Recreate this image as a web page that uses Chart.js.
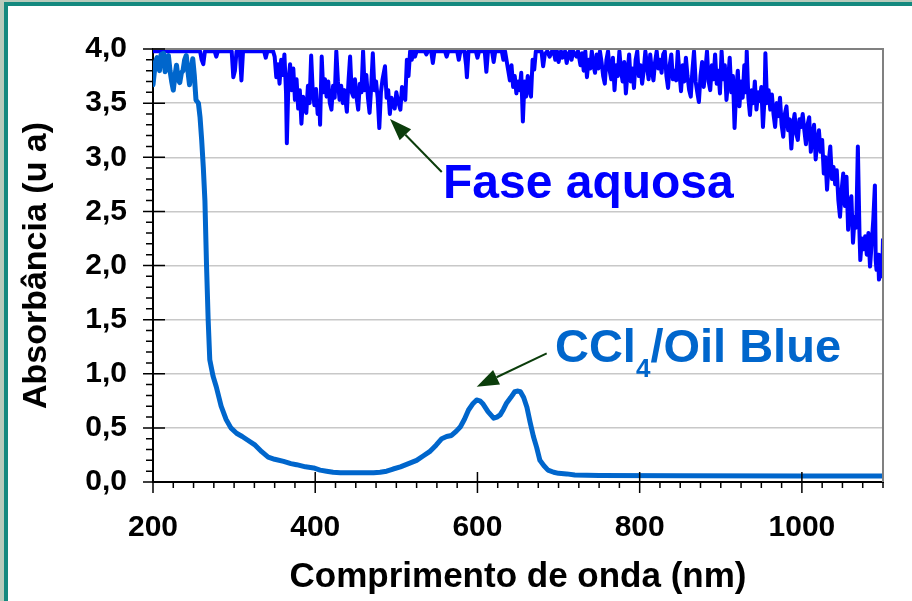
<!DOCTYPE html>
<html>
<head>
<meta charset="utf-8">
<title>Absorbância</title>
<script src="https://cdn.jsdelivr.net/npm/chart.js@4.4.1/dist/chart.umd.min.js"></script>
<style>
html, body { margin: 0; padding: 0; width: 912px; height: 601px; overflow: hidden; background: #b8cbbc; }
#frame { position: absolute; left: 4px; top: 2px; right: 0; bottom: 0; background: #fff; border-left: 4px solid #14897f; border-top: 4px solid #14897f; }
#spectrumChart { position: absolute; left: 0; top: 0; }
</style>
</head>
<body>
<div id="frame"></div>
<canvas id="spectrumChart" width="912" height="601"></canvas>
<script>
// ==========================
// DATA
// ==========================

// CCl4 / Oil Blue
const ccl4Wavelength = [
  200, 203, 205, 208, 210, 213, 215, 217, 219, 221,
  223, 225, 227, 229, 231, 233, 235, 237, 239, 241,
  243, 245, 247, 249, 251, 253, 256, 258, 260, 262,
  264, 266, 268, 270, 274, 278, 284, 290, 296, 303,
  310, 316, 326, 334, 342, 350, 361, 370, 377, 388,
  398, 406, 414, 422, 431, 450, 472, 480, 488, 496,
  505, 515, 525, 533, 541, 549, 556, 562, 568, 574,
  579, 584, 589, 594, 599, 603, 607, 613, 620, 624,
  628, 632, 636, 641, 646, 650, 653, 657, 661, 665,
  669, 673, 677, 682, 687, 694, 700, 710, 720, 750,
  850, 1000, 1100
];
const ccl4Absorbance = [
  3.67, 3.88, 3.92, 3.80, 3.95, 3.96, 3.79, 3.90, 3.94, 3.80,
  3.70, 3.62, 3.75, 3.85, 3.72, 3.69, 3.78, 3.80, 3.90, 3.94,
  3.80, 3.67, 3.80, 3.91, 3.75, 3.53, 3.50, 3.37, 3.16, 2.91,
  2.60, 2.00, 1.50, 1.13, 0.98, 0.88, 0.70, 0.58, 0.50, 0.45,
  0.42, 0.39, 0.34, 0.28, 0.23, 0.21, 0.19, 0.17, 0.16, 0.14,
  0.13, 0.11, 0.10, 0.09, 0.086, 0.085, 0.086, 0.09, 0.10, 0.12,
  0.14, 0.17, 0.20, 0.24, 0.28, 0.34, 0.40, 0.42, 0.43, 0.47,
  0.51, 0.58, 0.665, 0.72, 0.757, 0.75, 0.72, 0.65, 0.59, 0.60,
  0.62, 0.67, 0.73, 0.78, 0.834, 0.84, 0.834, 0.78, 0.69, 0.55,
  0.42, 0.32, 0.20, 0.15, 0.11, 0.09, 0.08, 0.075, 0.065, 0.06,
  0.057, 0.055, 0.055
];

// Fase aquosa (saturates near the top of the scale)
const aqueousWavelength = [
  200, 258, 260, 262, 264, 276, 278, 280, 297, 299,
  301, 303, 307, 309, 311, 337, 339, 341, 348, 350,
  352, 354, 356, 358, 360, 362, 364, 365, 367, 369,
  371, 373, 375, 377, 379, 381, 383, 385, 387, 389,
  391, 393, 395, 397, 399, 401, 403, 405, 406, 408,
  410, 412, 414, 416, 418, 420, 422, 424, 426, 428,
  430, 432, 434, 436, 439, 441, 443, 445, 447, 449,
  451, 453, 455, 457, 459, 461, 463, 465, 467, 469,
  471, 473, 475, 477, 479, 481, 483, 486, 488, 490,
  492, 494, 496, 498, 500, 502, 505, 507, 509, 511,
  513, 515, 517, 519, 521, 523, 525, 535, 537, 539,
  543, 545, 547, 560, 562, 564, 575, 577, 579, 584,
  586, 587, 589, 598, 600, 602, 609, 611, 613, 618,
  620, 622, 630, 632, 634, 638, 640, 642, 644, 646,
  648, 650, 652, 654, 656, 658, 660, 662, 664, 666,
  668, 670, 672, 679, 681, 683, 686, 689, 692, 694,
  696, 698, 700, 703, 705, 708, 710, 712, 714, 716,
  718, 722, 724, 727, 729, 731, 733, 735, 737, 739,
  741, 743, 745, 747, 749, 751, 753, 755, 757, 759,
  761, 763, 765, 767, 769, 771, 773, 775, 777, 779,
  781, 783, 785, 787, 789, 791, 793, 795, 797, 799,
  801, 803, 805, 807, 809, 811, 813, 815, 817, 819,
  821, 823, 825, 827, 829, 831, 833, 835, 837, 839,
  841, 843, 845, 847, 849, 851, 853, 855, 857, 859,
  861, 863, 865, 867, 869, 871, 873, 875, 877, 879,
  881, 883, 885, 887, 889, 891, 893, 895, 897, 899,
  901, 903, 905, 907, 909, 911, 913, 915, 917, 919,
  921, 923, 925, 927, 929, 931, 932, 934, 936, 938,
  940, 942, 944, 946, 948, 950, 952, 954, 955, 957,
  959, 961, 963, 965, 967, 969, 971, 973, 975, 977,
  979, 981, 983, 985, 987, 989, 991, 993, 995, 997,
  999, 1001, 1003, 1005, 1007, 1009, 1011, 1013, 1015, 1017,
  1019, 1021, 1023, 1025, 1027, 1029, 1031, 1033, 1035, 1037,
  1039, 1041, 1043, 1045, 1047, 1049, 1051, 1053, 1055, 1057,
  1059, 1061, 1063, 1065, 1067, 1069, 1071, 1072, 1074, 1076,
  1078, 1080, 1082, 1084, 1086, 1088, 1090, 1091, 1092, 1094,
  1095, 1097, 1098, 1099, 1100
];
const aqueousAbsorbance = [
  3.98, 3.98, 3.90, 3.86, 3.98, 3.98, 3.93, 3.98, 3.98, 3.74,
  3.80, 3.98, 3.98, 3.71, 3.98, 3.98, 3.92, 3.98, 3.98, 3.93,
  3.74, 3.86, 3.68, 3.90, 3.76, 3.95, 3.60, 3.13, 3.70, 3.86,
  3.62, 3.82, 3.53, 3.72, 3.45, 3.62, 3.31, 3.56, 3.46, 3.41,
  3.66, 3.50, 3.94, 3.60, 3.48, 3.63, 3.40, 3.52, 3.30, 3.93,
  3.60, 3.72, 3.56, 3.70, 3.50, 3.44, 3.66, 3.55, 3.98, 3.70,
  3.53, 3.66, 3.50, 3.62, 3.42, 3.70, 3.93, 3.60, 3.56, 3.72,
  3.55, 3.44, 3.68, 3.60, 3.98, 3.62, 3.76, 3.55, 3.41, 3.65,
  3.96, 3.62, 3.70, 3.55, 3.27, 3.60, 3.72, 3.84, 3.55, 3.62,
  3.40, 3.55, 3.48, 3.45, 3.60, 3.52, 3.44, 3.65, 3.58, 3.53,
  3.90, 3.75, 3.98, 3.90, 3.98, 3.93, 3.98, 3.98, 3.95, 3.98,
  3.98, 3.87, 3.98, 3.98, 3.93, 3.98, 3.98, 3.90, 3.98, 3.98,
  3.85, 3.74, 3.98, 3.98, 3.92, 3.98, 3.98, 3.79, 3.98, 3.98,
  3.88, 3.98, 3.98, 3.90, 3.98, 3.80, 3.71, 3.85, 3.65, 3.75,
  3.59, 3.70, 3.62, 3.78, 3.33, 3.70, 3.56, 3.75, 3.62, 3.56,
  3.90, 3.81, 3.98, 3.98, 3.84, 3.95, 3.98, 3.93, 3.98, 3.98,
  3.90, 3.98, 3.88, 3.98, 3.92, 3.98, 3.87, 3.95, 3.98, 3.90,
  3.98, 3.93, 3.98, 3.85, 3.96, 3.80, 3.98, 3.74, 3.90, 3.82,
  3.98, 3.85, 3.78, 3.95, 3.82, 3.98, 3.88, 3.75, 3.68, 3.90,
  3.98, 3.80, 3.72, 3.92, 3.62, 3.85, 3.75, 3.98, 3.80, 3.70,
  3.88, 3.59, 3.78, 3.95, 3.70, 3.82, 3.64, 3.90, 3.98, 3.75,
  3.85, 3.68, 3.80, 3.98, 3.85, 3.72, 3.95, 3.80, 3.71, 3.88,
  3.98, 3.82, 3.90, 3.78, 3.95, 3.98, 3.75, 3.64, 3.85, 3.95,
  3.72, 3.80, 3.71, 3.98, 3.78, 3.61, 3.85, 3.70, 3.92, 3.75,
  3.62, 3.56, 3.80, 3.98, 3.70, 3.60, 3.51, 3.75, 3.88, 3.65,
  3.80, 3.98, 3.70, 3.62, 3.85, 3.72, 3.95, 3.68, 3.80, 3.59,
  3.98, 3.72, 3.85, 3.53, 3.70, 3.92, 3.60, 3.75, 3.27, 3.62,
  3.80, 3.47, 3.70, 3.55, 3.85, 3.60, 3.98, 3.55, 3.39, 3.62,
  3.50, 3.70, 3.44, 3.60, 3.52, 3.65, 3.28, 3.55, 3.96, 3.50,
  3.62, 3.44, 3.58, 3.40, 3.28, 3.50, 3.38, 3.55, 3.30, 3.19,
  3.40, 3.47, 3.25, 3.35, 3.08, 3.30, 3.40, 3.22, 3.16, 3.35,
  3.28, 3.40, 3.25, 3.12, 3.30, 3.37, 3.05, 3.19, 3.30, 2.98,
  3.15, 3.25, 3.05, 3.16, 2.85, 3.00, 2.70, 2.95, 3.10, 2.80,
  2.91, 2.75, 2.88, 2.60, 2.45, 2.70, 2.85, 2.55, 2.82, 2.33,
  2.55, 2.64, 2.21, 2.45, 2.35, 3.10, 2.30, 2.05, 2.25, 2.15,
  2.27, 2.10, 2.30, 1.99, 2.20, 2.42, 2.74, 2.05, 1.96, 2.10,
  1.87, 1.95, 2.05, 1.90, 2.25
];

// axis ranges and tick steps
const wavelengthRange = [200, 1100];
const absorbanceRange = [0, 4];
const wavelengthStep = 200;
const absorbanceStep = 0.5;


// ==========================
// HELPERS
// ==========================

const FONT = "'Liberation Sans', Arial, Helvetica, sans-serif";

const toPoints = (xs, ys) =>
    xs.map((x, i) => ({ x: x, y: ys[i] }));

function drawArrow(ctx, x0, y0, x1, y1) {

    const ang = Math.atan2(y1 - y0, x1 - x0);
    const len = 22;
    const half = 8;
    const bx = x1 - len * Math.cos(ang);
    const by = y1 - len * Math.sin(ang);

    ctx.beginPath();
    ctx.moveTo(x0, y0);
    ctx.lineTo(bx, by);
    ctx.stroke();

    ctx.beginPath();
    ctx.moveTo(x1, y1);
    ctx.lineTo(bx + half * Math.sin(ang), by - half * Math.cos(ang));
    ctx.lineTo(bx - half * Math.sin(ang), by + half * Math.cos(ang));
    ctx.closePath();
    ctx.fill();
}


// ==========================
// FRAME, TICK MARKS, LABELS
// ==========================

const spectrumDecorations = {

    id: "spectrumDecorations",

    afterDatasetsDraw(chart) {

        const { ctx, chartArea: a, scales: { x, y } } = chart;

        ctx.save();

        // top and right edges of the plot box
        ctx.strokeStyle = "#808080";
        ctx.lineWidth = 2;
        ctx.beginPath();
        ctx.moveTo(a.left, a.top);
        ctx.lineTo(a.right, a.top);
        ctx.lineTo(a.right, a.bottom);
        ctx.stroke();

        // major ticks cross the axis, minor ticks sit outside
        ctx.strokeStyle = "#000";
        ctx.lineWidth = 1.5;
        ctx.beginPath();

        for (let i = 0; i <= 40; i++) {
            const py = y.getPixelForValue(i / 10);
            if (i % 5 === 0) {
                ctx.moveTo(a.left - 10, py);
                ctx.lineTo(a.left + 12, py);
            } else {
                ctx.moveTo(a.left - 7, py);
                ctx.lineTo(a.left, py);
            }
        }

        for (let w = wavelengthRange[0]; w <= wavelengthRange[1]; w += 25) {
            const px = x.getPixelForValue(w);
            if (w % wavelengthStep === 0) {
                ctx.moveTo(px, a.bottom - 10);
                ctx.lineTo(px, a.bottom + 11);
            } else {
                ctx.moveTo(px, a.bottom);
                ctx.lineTo(px, a.bottom + 6);
            }
        }
        ctx.stroke();

        // arrows
        ctx.strokeStyle = "#0b3d0b";
        ctx.fillStyle = "#0b3d0b";
        ctx.lineWidth = 2;

        drawArrow(ctx,
            x.getPixelForValue(556), y.getPixelForValue(2.864),
            x.getPixelForValue(492.2), y.getPixelForValue(3.353));

        drawArrow(ctx,
            x.getPixelForValue(685.4), y.getPixelForValue(1.189),
            x.getPixelForValue(599.1), y.getPixelForValue(0.880));

        // series names
        ctx.textBaseline = "alphabetic";
        ctx.textAlign = "left";

        ctx.fillStyle = "#0000ff";
        ctx.font = "bold 48px " + FONT;
        ctx.fillText("Fase aquosa",
            x.getPixelForValue(557.5), y.getPixelForValue(2.624));

        ctx.fillStyle = "#0066cc";
        let lx = x.getPixelForValue(695.6);
        const ly = y.getPixelForValue(1.109);

        ctx.font = "bold 47px " + FONT;
        ctx.fillText("CCl", lx, ly);
        lx += ctx.measureText("CCl").width;

        ctx.font = "bold 26px " + FONT;
        ctx.fillText("4", lx, ly + 15);
        lx += ctx.measureText("4").width;

        ctx.font = "bold 47px " + FONT;
        ctx.fillText("/Oil Blue", lx, ly);

        ctx.restore();
    }
};


// ==========================
// SPECTRUM CHART
// ==========================

const spectrumCtx =
document.getElementById(
    "spectrumChart");

new Chart(spectrumCtx, {

    type: "line",

    data: {

        datasets: [{

            label: "CCl4/Oil Blue",
            data: toPoints(ccl4Wavelength, ccl4Absorbance),
            borderColor: "#0066cc",
            borderWidth: 5,
            borderJoinStyle: "round",
            borderCapStyle: "round",
            pointRadius: 0,
            tension: 0

        }, {

            label: "Fase aquosa",
            data: toPoints(aqueousWavelength, aqueousAbsorbance),
            borderColor: "#0000ff",
            borderWidth: 4,
            borderJoinStyle: "round",
            pointRadius: 0,
            tension: 0
        }]
    },

    options: {

        responsive: false,
        animation: false,
        devicePixelRatio: 1,

        layout: {
            padding: { left: 0, top: 49, right: 29, bottom: 0 }
        },

        plugins: {
            legend: { display: false },
            tooltip: { enabled: false }
        },

        scales: {

            x: {
                type: "linear",
                min: wavelengthRange[0],
                max: wavelengthRange[1],
                afterFit: scale => { scale.height = 119; },
                ticks: {
                    stepSize: wavelengthStep,
                    includeBounds: false,
                    autoSkip: false,
                    maxRotation: 0,
                    padding: 28,
                    color: "#000",
                    font: { family: FONT, size: 30, weight: "bold" },
                    callback: v => String(v)
                },
                grid: { display: false, drawTicks: false },
                border: { color: "#000", width: 2 },
                title: {
                    display: true,
                    text: "Comprimento de onda (nm)",
                    color: "#000",
                    font: { family: FONT, size: 35, weight: "bold" },
                    padding: { top: 0, bottom: 3 }
                }
            },

            y: {
                min: absorbanceRange[0],
                max: absorbanceRange[1],
                afterFit: scale => { scale.width = 153; },
                ticks: {
                    stepSize: absorbanceStep,
                    padding: 26,
                    color: "#000",
                    font: { family: FONT, size: 30, weight: "bold" },
                    callback: v => v.toFixed(1).replace(".", ",")
                },
                grid: {
                    drawTicks: false,
                    lineWidth: 1.5,
                    color: c =>
                        (c.tick && (c.tick.value === absorbanceRange[0] ||
                                    c.tick.value === absorbanceRange[1]))
                            ? "rgba(0,0,0,0)" : "#c8c8c8"
                },
                border: { color: "#000", width: 2 },
                title: {
                    display: true,
                    text: "Absorbância (u a)",
                    color: "#000",
                    font: { family: FONT, size: 34, weight: "bold" },
                    padding: { top: 16, bottom: 0 }
                }
            }
        }
    },

    plugins: [spectrumDecorations]
});
</script>
</body>
</html>
